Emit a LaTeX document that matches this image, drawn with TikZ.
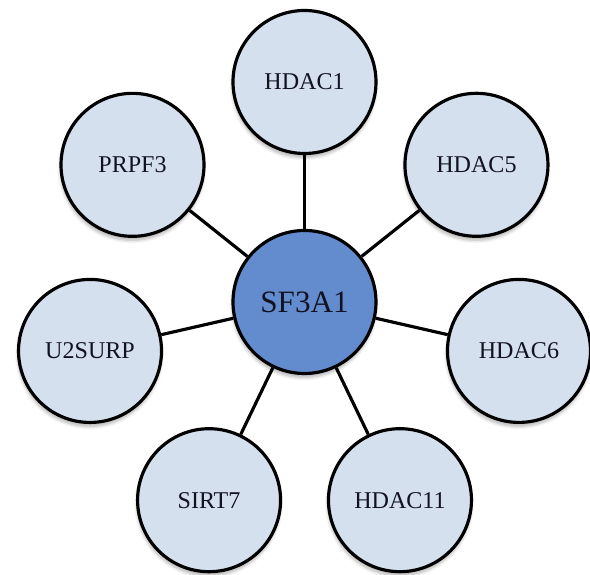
\documentclass[tikz,border=0pt]{standalone}
\usepackage{fontspec}
\setmainfont{Liberation Serif}
\usepackage{tikz}
\usetikzlibrary{shadows.blur}
\definecolor{centre}{RGB}{98,140,206}
\definecolor{pale}{RGB}{213,224,238}
\definecolor{encre}{RGB}{18,18,32}

\begin{document}
\begin{tikzpicture}[
  gene/.style={circle,draw,line width=1.8pt,fill=pale,minimum size=2.86cm,inner sep=0pt,
    text=encre,font=\fontsize{13.7}{16}\selectfont,
    blur shadow={shadow xshift=-0.01cm,shadow yshift=-0.08cm,shadow blur steps=6,shadow opacity=30}},
  lien/.style={line width=1.8pt}]%
\useasboundingbox (-6.09,-5.46) rectangle (5.71,6.04);%%
%%CENTRE
\node[gene,fill=centre,font=\fontsize{17.7}{20}\selectfont] (sf3a1) at (0,0) {SF3A1};%%
%%VOISINS
\foreach \nom/\i in {HDAC1/0,PRPF3/1,U2SURP/2,SIRT7/3,HDAC11/4,HDAC6/5,HDAC5/6}{%
  \node[gene] (\nom) at (90+\i*51.43:4.4) {\nom};%%
  \draw[lien] (sf3a1) -- (\nom);%%
}
\end{tikzpicture}
\end{document}
